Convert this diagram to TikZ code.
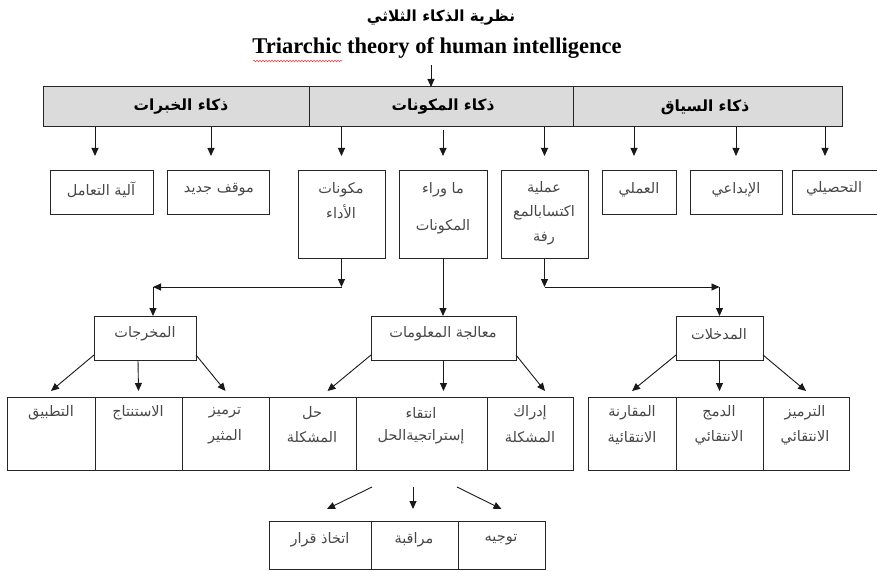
\documentclass[tikz,border=0pt]{standalone}
\usepackage{fontspec}
\setmainfont{Liberation Serif}
\newfontfamily\arabicfont[Script=Arabic]{DejaVu Sans}
\TeXXeTstate=1
\usetikzlibrary{arrows.meta,decorations.pathmorphing,calc}
\newcommand\bx[6][box]{\node[#1, anchor=north west, minimum width={(#5-#3)*1pt}, minimum height={(#6-#4)*1pt}] (#2) at (#3,#4) {};}
\newcommand\tx[4]{\node[txt] (#1) at (#2,#3) {#4};}
\tikzset{
  box/.style={draw=black!85, line width=1pt, inner sep=0pt, outer sep=0pt},
  barbox/.style={box, fill=black!14},
  txt/.style={font=\arabicfont\fontsize{14.5}{16}\selectfont, text=black!72, inner sep=0pt},
  bartxt/.style={font=\arabicfont\bfseries\fontsize{15.4}{17}\selectfont, text=black, inner sep=0pt},
  arr/.style={-{Triangle[length=8pt,width=7pt]}, line width=0.9pt, draw=black!90},
}
\begin{document}
\begin{tikzpicture}[x=1pt,y=-1pt]
\useasboundingbox (0,0) rectangle (877,572);
% titles
\node[font=\arabicfont\bfseries\fontsize{15.3}{17}\selectfont, inner sep=0pt] (tar) at (441,18) {\beginR نظرية الذكاء الثلاثي\endR};
\node[font=\bfseries\fontsize{22.5}{24}\selectfont, inner sep=0pt] (en) at (437,48) {Triarchic theory of human intelligence};
\draw[red!80, line width=0.5pt, decorate, decoration={snake, amplitude=0.8pt, segment length=3pt}] (253,61) -- (342,61);
% bar
\bx[barbox]{bar1}{43}{87}{309}{127}
\bx[barbox]{bar2}{309}{87}{573}{127}
\bx[barbox]{bar3}{573}{87}{842}{127}
\node[bartxt] (l1) at (181,107) {\beginR ذكاء الخبرات\endR};
\node[bartxt] (l2) at (443,107) {\beginR ذكاء المكونات\endR};
\node[bartxt] (l3) at (705,107) {\beginR ذكاء السياق\endR};
\coordinate (ta) at (431,65);
\draw[arr] (ta) -- (ta |- bar2.north);
% row 1
\bx{b1}{50}{171}{153}{214}
\bx{b2}{167}{171}{269}{214}
\bx{b3}{298}{171}{385}{258}
\bx{b4}{399}{171}{487}{258}
\bx{b5}{501}{171}{588}{258}
\bx{b6}{602}{171}{676}{214}
\bx{b7}{690}{171}{782}{214}
\bx{b8}{792}{171}{877}{214}
\tx{t1}{101}{190}{\beginR آلية التعامل\endR}
\tx{t2}{219}{190}{\beginR موقف جديد\endR}
\tx{t3a}{341}{190}{\beginR مكونات\endR}
\tx{t3b}{341}{212}{\beginR الأداء\endR}
\tx{t4a}{443}{190}{\beginR ما وراء\endR}
\tx{t4b}{443}{227}{\beginR المكونات\endR}
\tx{t5a}{544}{188}{\beginR عملية\endR}
\tx{t5b}{544}{213}{\beginR اكتسابالمع\endR}
\tx{t5c}{544}{239}{\beginR رفة\endR}
\tx{t6}{639}{190}{\beginR العملي\endR}
\tx{t7}{736}{190}{\beginR الإبداعي\endR}
\tx{t8}{834}{189}{\beginR التحصيلي\endR}
% bar -> row 1
\draw[arr] ([xshift=-6.5pt]b1.north |- bar1.south) -- ([xshift=-6.5pt,yshift=15pt]b1.north);
\draw[arr] ([xshift=-7pt]b2.north |- bar1.south) -- ([xshift=-7pt,yshift=15pt]b2.north);
\draw[arr] (b3.north |- bar2.south) -- ([yshift=15pt]b3.north);
\draw[arr] ([yshift=-3pt]b4.north |- bar2.south) -- ([yshift=15pt]b4.north);
\draw[arr] (b5.north |- bar2.south) -- ([yshift=15pt]b5.north);
\draw[arr] ([xshift=-5pt]b6.north |- bar3.south) -- ([xshift=-5pt,yshift=15pt]b6.north);
\draw[arr] (b7.north |- bar3.south) -- ([yshift=15pt]b7.north);
\draw[arr] ([xshift=-9.5pt]b8.north |- bar3.south) -- ([xshift=-9.5pt,yshift=15pt]b8.north);
% row 2
\bx{out}{94}{316}{196}{360}
\bx{proc}{371}{316}{516}{360}
\bx{inp}{676}{316}{763}{360}
\tx{to}{145}{334}{\beginR المخرجات\endR}
\tx{tp}{443}{334}{\beginR معالجة المعلومات\endR}
\tx{ti}{719}{334}{\beginR المدخلات\endR}
% row 1 -> row 2
\coordinate (jl) at ($(b3.south)+(0,29)$);
\coordinate (kl) at ([xshift=8pt]out.north |- jl);
\draw[arr] (b3.south) -- (jl);
\draw[arr] (jl) -- (kl);
\draw[arr] (kl) -- ([xshift=8pt]out.north);
\coordinate (jr) at ($(b5.south)+(0,29)$);
\coordinate (kr) at (inp.north |- jr);
\draw[arr] (b5.south) -- (jr);
\draw[arr] (jr) -- (kr);
\draw[arr] (kr) -- (inp.north);
\draw[arr] (b4.south) -- (b4.south |- proc.north);
% row 3
\bx{c1}{7}{397}{95}{470}
\bx{c2}{95}{397}{182}{470}
\bx{c3}{182}{397}{269}{470}
\bx{c4}{269}{397}{356}{470}
\bx{c5}{356}{397}{487}{470}
\bx{c6}{487}{397}{573}{470}
\bx{d1}{588}{397}{676}{470}
\bx{d2}{676}{397}{763}{470}
\bx{d3}{763}{397}{849}{470}
\tx{s1}{51}{413}{\beginR التطبيق\endR}
\tx{s2}{138}{413}{\beginR الاستنتاج\endR}
\tx{s3a}{225}{413}{\beginR ترميز\endR}
\tx{s3b}{225}{437}{\beginR المثير\endR}
\tx{s4a}{312}{413}{\beginR حل\endR}
\tx{s4b}{312}{437}{\beginR المشكلة\endR}
\tx{s5a}{421}{413}{\beginR انتقاء\endR}
\tx{s5b}{421}{437}{\beginR إستراتجيةالحل\endR}
\tx{s6a}{530}{413}{\beginR إدراك\endR}
\tx{s6b}{530}{437}{\beginR المشكلة\endR}
\tx{r1a}{632}{413}{\beginR المقارنة\endR}
\tx{r1b}{632}{438}{\beginR الانتقائية\endR}
\tx{r2a}{719}{413}{\beginR الدمج\endR}
\tx{r2b}{719}{438}{\beginR الانتقائي\endR}
\tx{r3a}{805}{413}{\beginR الترميز\endR}
\tx{r3b}{805}{438}{\beginR الانتقائي\endR}
% row 2 -> row 3
\draw[arr] ([yshift=5pt]out.south west) -- ([yshift=6pt]c1.north);
\draw[arr] ([xshift=-7pt]out.south) -- ([yshift=6pt]c2.north);
\draw[arr] ([yshift=5pt]out.south east) -- ([yshift=6pt]c3.north);
\draw[arr] ([yshift=5pt]proc.south west) -- ([xshift=15pt,yshift=6pt]c4.north);
\draw[arr] (proc.south) -- ([yshift=6pt]proc.south |- c5.north);
\draw[arr] ([yshift=5pt]proc.south east) -- ([xshift=15pt,yshift=6pt]c6.north);
\draw[arr] ([yshift=5pt]inp.south west) -- ([yshift=6pt]d1.north);
\draw[arr] (inp.south) -- ([yshift=6pt]d2.north);
\draw[arr] ([yshift=5pt]inp.south east) -- ([yshift=6pt]d3.north);
% bottom row
\bx{e1}{269}{521}{371}{569}
\bx{e2}{371}{521}{458}{569}
\bx{e3}{458}{521}{545}{569}
\tx{u1}{320}{540}{\beginR اتخاذ قرار\endR}
\tx{u2}{414}{540}{\beginR مراقبة\endR}
\tx{u3}{501}{540}{\beginR توجيه\endR}
\draw[arr] ([xshift=-49.5pt,yshift=-17pt]c5.south) -- ([xshift=7pt,yshift=12pt]e1.north);
\draw[arr] ([xshift=-8.5pt,yshift=-17pt]c5.south) -- ([xshift=-1.5pt,yshift=12pt]e2.north);
\draw[arr] ([xshift=35.5pt,yshift=-17pt]c5.south) -- ([yshift=12pt]e3.north);
\end{tikzpicture}
\end{document}
